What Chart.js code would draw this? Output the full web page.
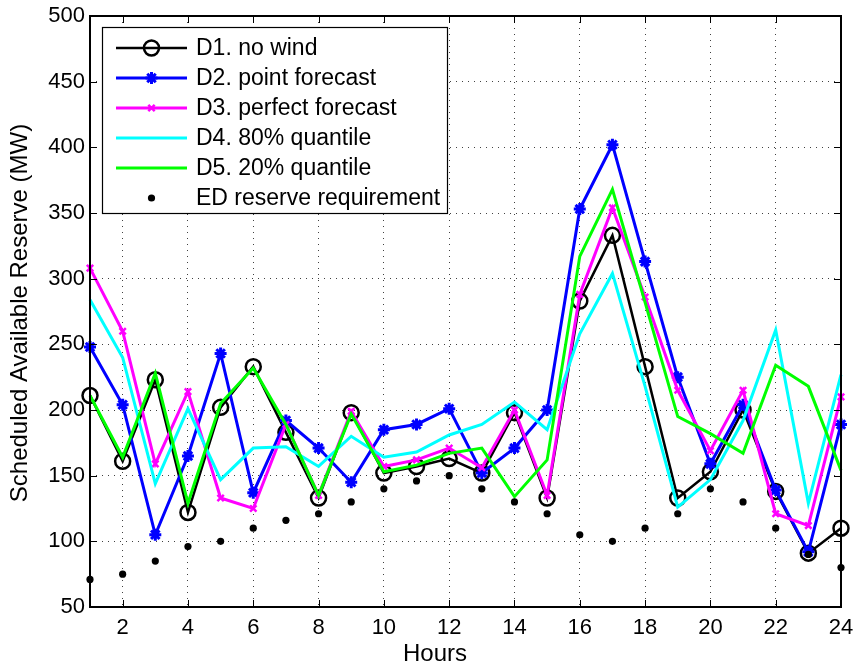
<!DOCTYPE html>
<html>
<head>
<meta charset="utf-8">
<script src="https://cdn.jsdelivr.net/npm/chart.js@4/dist/chart.umd.min.js"></script>
<style>
  html, body { margin: 0; padding: 0; background: #fff; }
  #wrap { width: 857px; height: 668px; }
</style>
</head>
<body>
<div id="wrap"><canvas id="c" width="857" height="668"></canvas></div>
<script>
// Hourly scheduled available reserve (MW) for each dispatch case
const hours = [1,2,3,4,5,6,7,8,9,10,11,12,13,14,15,16,17,18,19,20,21,22,23,24];
const d1NoWind = [211,161,223,122,202,233,183,133,198,152,157,163,152,198,133,283,333,233,133,153,200,138,91,110];
const d2PointForecast = [248,204,105,165,243,137,192,171,145,185,189,201,152,171,200,353,402,313,225,159,204,139,92,189];
const d3PerfectForecast = [308,260,159,214,133,125,189,135,199,157,162,171,156,200,135,288,354,286,215,169,215,121,112,210];
const d4Quantile80 = [284,240,144,201,147,171,172,157,180,164,168,181,189,206,185,258,304,218,126,147,192,261,129,227];
const d5Quantile20 = [211,164,228,129,205,232,189,135,197,153,158,167,171,134,162,317,368,282,195,182,167,234,218,154];
const edReserveReq = [71,75,85,96,100,110,116,121,130,140,146,150,140,130,121,105,100,110,121,140,130,110,90,80];

const seriesLabels = ['D1. no wind','D2. point forecast','D3. perfect forecast','D4. 80% quantile','D5. 20% quantile','ED reserve requirement'];
const xTicks = [2,4,6,8,10,12,14,16,18,20,22,24];
const yTicks = [50,100,150,200,250,300,350,400,450,500];
const xTitle = 'Hours';
const yTitle = 'Scheduled Available Reserve (MW)';

const FONT = 'Liberation Sans, Arial, Helvetica, sans-serif';

function pts(vals) { return hours.map((h, i) => ({ x: h, y: vals[i] })); }

const datasets = [
  { label: seriesLabels[0], data: pts(d1NoWind), borderColor: '#000000', borderWidth: 2.5,
    pointStyle: 'circle', pointRadius: 7.5, pointBorderWidth: 2.5, pointBorderColor: '#000000',
    pointBackgroundColor: 'rgba(0,0,0,0)', order: 6 },
  { label: seriesLabels[1], data: pts(d2PointForecast), borderColor: '#0000ff', borderWidth: 3,
    pointStyle: 'star', pointRadius: 6, pointBorderWidth: 3, pointBorderColor: '#0000ff',
    pointBackgroundColor: '#0000ff', order: 5 },
  { label: seriesLabels[2], data: pts(d3PerfectForecast), borderColor: '#ff00ff', borderWidth: 3,
    pointStyle: 'crossRot', pointRadius: 4.5, pointBorderWidth: 2.5, pointBorderColor: '#ff00ff',
    pointBackgroundColor: '#ff00ff', order: 4 },
  { label: seriesLabels[3], data: pts(d4Quantile80), borderColor: '#00ffff', borderWidth: 3,
    pointRadius: 0, order: 3 },
  { label: seriesLabels[4], data: pts(d5Quantile20), borderColor: '#00ff00', borderWidth: 3,
    pointRadius: 0, order: 2 },
  { label: seriesLabels[5], data: pts(edReserveReq), showLine: false, borderColor: '#000000',
    pointStyle: 'circle', pointRadius: 3.6, pointBorderWidth: 0, pointBackgroundColor: '#000000', order: 1 }
];
datasets.forEach(ds => { ds.clip = false; });

// Box frame with inward tick marks on all four sides, plus axis titles
const framePlugin = {
  id: 'frame',
  afterDatasetsDraw(chart) {
    const { ctx, chartArea: a, scales } = chart;
    ctx.save();
    ctx.strokeStyle = '#000';
    ctx.lineWidth = 1;
    const tl = 7;
    ctx.beginPath();
    scales.x.ticks.forEach(t => {
      const px = Math.round(scales.x.getPixelForValue(t.value)) + 0.5;
      ctx.moveTo(px, a.bottom); ctx.lineTo(px, a.bottom - tl);
      ctx.moveTo(px, a.top); ctx.lineTo(px, a.top + tl);
    });
    scales.y.ticks.forEach(t => {
      const py = Math.round(scales.y.getPixelForValue(t.value)) + 0.5;
      ctx.moveTo(a.left, py); ctx.lineTo(a.left + tl, py);
      ctx.moveTo(a.right, py); ctx.lineTo(a.right - tl, py);
    });
    ctx.stroke();
    ctx.lineWidth = 2;
    ctx.strokeRect(a.left, a.top, a.right - a.left, a.bottom - a.top);

    ctx.fillStyle = '#000';
    ctx.font = '24px ' + FONT;
    ctx.textAlign = 'center';
    ctx.textBaseline = 'middle';
    ctx.fillText(xTitle, 435, 654);
    ctx.translate(20, 313);
    ctx.rotate(-Math.PI / 2);
    ctx.fillText(yTitle, 0, 0);
    ctx.restore();
  }
};

// Boxed legend in the upper-left of the plot area
const boxLegendPlugin = {
  id: 'boxLegend',
  afterDraw(chart) {
    const { ctx } = chart;
    const x0 = 102, y0 = 27, w = 345, h = 186;
    const rowY0 = 48, rowStep = 30;
    const lx1 = 116, lx2 = 187, tx = 196;
    ctx.save();
    ctx.fillStyle = '#fff';
    ctx.fillRect(x0, y0, w, h);
    ctx.strokeStyle = '#000';
    ctx.lineWidth = 1.2;
    ctx.strokeRect(x0 + 0.5, y0 + 0.5, w, h);
    chart.data.datasets.forEach((ds, i) => {
      const y = rowY0 + i * rowStep;
      if (ds.showLine !== false) {
        ctx.strokeStyle = ds.borderColor;
        ctx.lineWidth = ds.borderWidth;
        ctx.beginPath();
        ctx.moveTo(lx1, y); ctx.lineTo(lx2, y);
        ctx.stroke();
      }
      if (ds.pointRadius > 0) {
        ctx.strokeStyle = ds.pointBorderColor || ds.borderColor;
        ctx.fillStyle = ds.pointBackgroundColor;
        ctx.lineWidth = ds.pointBorderWidth;
        Chart.helpers.drawPoint(ctx, {
          pointStyle: ds.pointStyle, radius: ds.pointRadius, rotation: 0,
          borderWidth: ds.pointBorderWidth
        }, (lx1 + lx2) / 2, y);
      }
      ctx.fillStyle = '#000';
      ctx.font = '23px ' + FONT;
      ctx.textBaseline = 'middle';
      ctx.textAlign = 'left';
      ctx.fillText(ds.label, tx, y + 1);
    });
    ctx.restore();
  }
};

new Chart(document.getElementById('c'), {
  type: 'line',
  data: { datasets },
  options: {
    responsive: false,
    animation: false,
    devicePixelRatio: 1,
    layout: { padding: { left: 0, right: 16, top: 16, bottom: 0 } },
    elements: { line: { tension: 0, fill: false } },
    plugins: { legend: { display: false }, tooltip: { enabled: false } },
    scales: {
      x: {
        type: 'linear', min: 1, max: 24,
        afterBuildTicks: s => { s.ticks = xTicks.map(v => ({ value: v })); },
        afterFit: s => { s.height = 61; s.paddingLeft = 0; s.paddingRight = 0; },
        grid: { color: 'rgba(0,0,0,0.75)', lineWidth: 1, drawTicks: false },
        border: { display: false, dash: [1, 5] },
        ticks: { color: '#000', font: { family: FONT, size: 22 }, padding: 8, maxRotation: 0 }
      },
      y: {
        type: 'linear', min: 50, max: 500,
        afterBuildTicks: s => { s.ticks = yTicks.map(v => ({ value: v })); },
        afterFit: s => { s.width = 90; s.paddingTop = 0; s.paddingBottom = 0; },
        grid: { color: 'rgba(0,0,0,0.75)', lineWidth: 1, drawTicks: false },
        border: { display: false, dash: [1, 5] },
        ticks: { color: '#000', font: { family: FONT, size: 22 }, padding: 5 }
      }
    }
  },
  plugins: [framePlugin, boxLegendPlugin]
});
</script>
</body>
</html>
